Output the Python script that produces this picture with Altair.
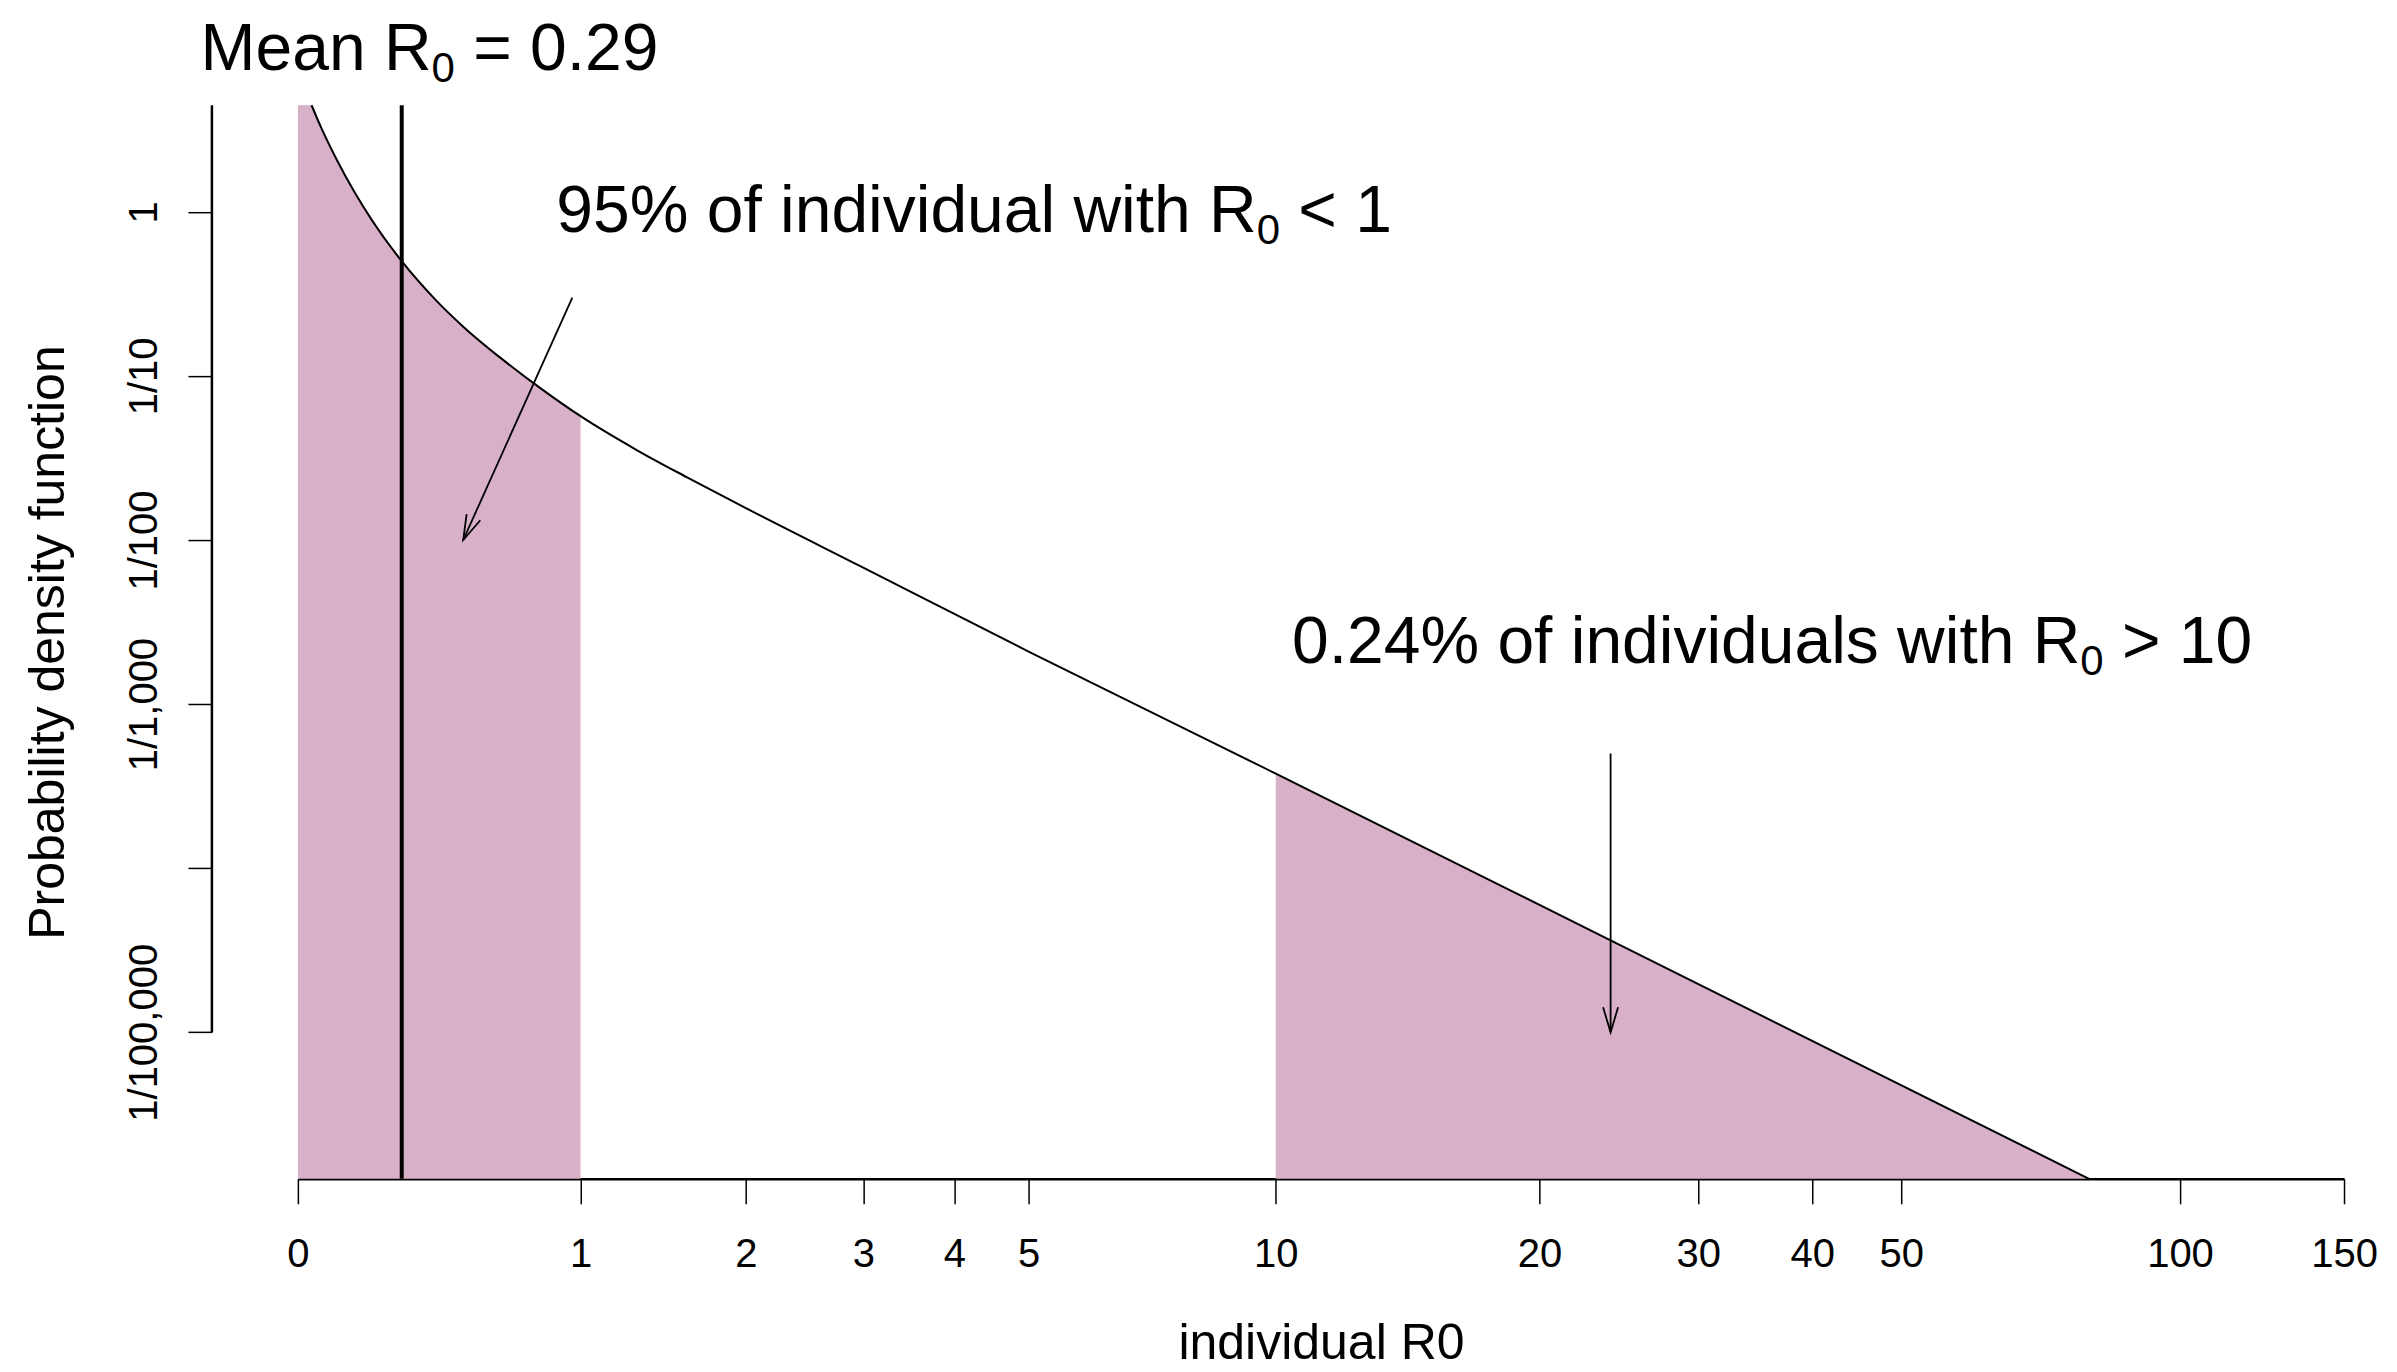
import altair as alt
import pandas as pd

# ---- values ----
curve_x = [0.034, 0.06, 0.1, 0.15, 0.2, 0.29, 0.4, 0.5, 0.65, 0.8,
           1.0, 1.3, 1.6, 2.0, 3.0, 5.0, 10.0, 24.0, 79.8]
curve_density = [4.46, 3.21, 2.077, 1.307, 0.884, 0.500, 0.2927, 0.1996, 0.1265, 0.0866,
                 0.0568, 0.0351, 0.0240, 0.01563, 0.00678, 0.00209, 0.000377, 0.0000363, 0.00000128]

y_min, y_max = 0.00000128, 4.46
x_ticks = [0, 1, 2, 3, 4, 5, 10, 20, 30, 40, 50, 100, 150]
y_ticks = [1, 0.1, 0.01, 0.001, 0.0001, 0.00001]
y_tick_labels = ["1", "1/10", "1/100", "1/1,000", "", "1/100,000"]

mean_r0 = 0.29
low_cut, high_cut = 1.0, 10.0

arrow_x = [0.96, 24]
arrow_y = [0.3, 0.0005]
arrow_x2 = [0.5, 24]
arrow_y2 = [0.01, 0.00001]
arrow_angle = [24.2, 0]

# annotation texts: text before the subscript, subscript, text after it
label_pre = ["Mean R", "95% of individual with R", "0.24% of individuals with R"]
label_sub = ["0", "0", "0"]
label_post = [" = 0.29", " < 1", " > 10"]
label_x = [0.381, 4.25, 36.15]
label_y = [7.3, 0.753, 0.00177]

# ---- tables ----
curve = pd.DataFrame({"x": curve_x, "d": curve_density})
left = pd.DataFrame({"x": [0.0] + [x for x in curve_x if x <= low_cut],
                     "d": [y_max] + [d for x, d in zip(curve_x, curve_density) if x <= low_cut]})
left["region"] = "low"
right = pd.DataFrame({"x": [x for x in curve_x if x >= high_cut],
                      "d": [d for x, d in zip(curve_x, curve_density) if x >= high_cut]})
right["region"] = "high"
areas = pd.concat([left, right], ignore_index=True)
areas["base"] = y_min

arrows = pd.DataFrame({"x": arrow_x, "y": arrow_y, "x2": arrow_x2, "y2": arrow_y2, "angle": arrow_angle})
mean_df = pd.DataFrame({"x": [mean_r0], "y": [y_min], "y2": [y_max]})
yaxis_df = pd.DataFrame({"y": [min(y_ticks)], "y2": [y_max]})

FONT = "Liberation Sans"
PINK = "#D8B0C8"
FS = 66        # annotation font size
FS_SUB = 42    # subscript font size
SUB_DROP = 12  # subscript lowered by this many pixels

# Liberation Sans (Arial metrics) advance widths, per em
ADV = {"M": .833, "e": .556, "a": .556, "n": .556, " ": .278, "R": .722, "=": .584,
       ".": .278, "%": .889, "o": .556, "f": .278, "i": .222, "d": .556, "v": .5,
       "u": .556, "l": .222, "w": .722, "t": .278, "h": .556, "s": .5, "<": .584, ">": .584}


def text_width(s, size):
    return sum(ADV.get(c, .556) for c in s) * size


label_expr = "''"
for v, l in reversed(list(zip(y_ticks, y_tick_labels))):
    label_expr = f"abs(datum.value - {v}) < {v * 1e-3} ? '{l}' : " + label_expr

xscale = alt.Scale(type="symlog", constant=1, domain=[0, 150], nice=False, zero=False)
yscale = alt.Scale(type="log", domain=[y_min, y_max], nice=False)

x_axis = alt.Axis(values=x_ticks, format="d", grid=False, tickSize=25, tickWidth=1.5,
                  tickColor="black", domainColor="black", domainWidth=2.5,
                  labelFont=FONT, labelFontSize=40, labelColor="black", labelPadding=31,
                  labelOverlap=False, labelFlush=False,
                  title="individual R0", titleFont=FONT, titleFontSize=50,
                  titleFontWeight="normal", titleColor="black",
                  titleBaseline="alphabetic", titlePadding=84)
y_axis = alt.Axis(values=y_ticks, labelExpr=label_expr, grid=False, domain=False,
                  offset=86, tickSize=24, tickWidth=1.5, tickColor="black",
                  labelFont=FONT, labelFontSize=40, labelColor="black",
                  labelAngle=270, labelAlign="center", labelBaseline="alphabetic",
                  labelPadding=31, labelOverlap=False,
                  title="Probability density function", titleFont=FONT, titleFontSize=50,
                  titleFontWeight="normal", titleColor="black", titleAngle=270,
                  titleBaseline="alphabetic", titlePadding=61)


def X(field):
    return alt.X(field, type="quantitative", scale=xscale, axis=x_axis)


def Y(field):
    return alt.Y(field, type="quantitative", scale=yscale, axis=y_axis)


area_layer = alt.Chart(areas).mark_area(color=PINK, interpolate="monotone", opacity=1).encode(
    x=X("x"), y=Y("d"), y2="base:Q", detail="region:N",
)

line_layer = alt.Chart(curve).mark_line(color="black", strokeWidth=2, interpolate="monotone").encode(
    x=X("x"), y=Y("d"),
)

mean_layer = alt.Chart(mean_df).mark_rule(color="black", strokeWidth=4).encode(
    x=X("x"), y=Y("y"), y2="y2:Q",
)

yaxis_line = alt.Chart(yaxis_df).mark_rule(color="black", strokeWidth=2.5).encode(
    x=alt.value(-86), y=Y("y"), y2="y2:Q",
)

shaft_layer = alt.Chart(arrows).mark_rule(color="black", strokeWidth=1.8).encode(
    x=X("x"), y=Y("y"), x2="x2:Q", y2="y2:Q",
)

head_layer = alt.Chart(arrows).mark_point(
    shape="M -0.3 -1 L 0 0 L 0.3 -1", filled=False, color="black", strokeWidth=1.8,
    size=2500, opacity=1,
).encode(
    x=X("x2"), y=Y("y2"), angle=alt.Angle("angle:Q", scale=None),
)

text_layers = []
for pre, sub, post, lx, ly in zip(label_pre, label_sub, label_post, label_x, label_y):
    w_pre = text_width(pre, FS)
    w_sub = text_width(sub, FS_SUB)
    w_post = text_width(post, FS)
    start = -(w_pre + w_sub + w_post) / 2
    post_clean = post.lstrip(" ")
    lead = text_width(post[: len(post) - len(post_clean)], FS)
    pieces = [(pre, FS, start, 0), (sub, FS_SUB, start + w_pre, SUB_DROP),
              (post_clean, FS, start + w_pre + w_sub + lead, 0)]
    for txt, size, dx, dy in pieces:
        df = pd.DataFrame({"x": [lx], "y": [ly], "t": [txt]})
        text_layers.append(
            alt.Chart(df).mark_text(
                font=FONT, fontSize=size, color="black", align="left",
                baseline="alphabetic", dx=dx, dy=dy,
            ).encode(x=X("x"), y=Y("y"), text="t:N")
        )

chart = alt.layer(
    area_layer, line_layer, mean_layer, yaxis_line, shaft_layer, head_layer, *text_layers
).properties(
    width=2047, height=1074,
    autosize=alt.AutoSizeParams(type="none"),
    padding={"left": 290, "top": 97, "right": 45, "bottom": 193},
    background="white",
).configure_view(strokeWidth=0)

chart.save("out.html", embed_options={"renderer": "svg", "actions": False})
